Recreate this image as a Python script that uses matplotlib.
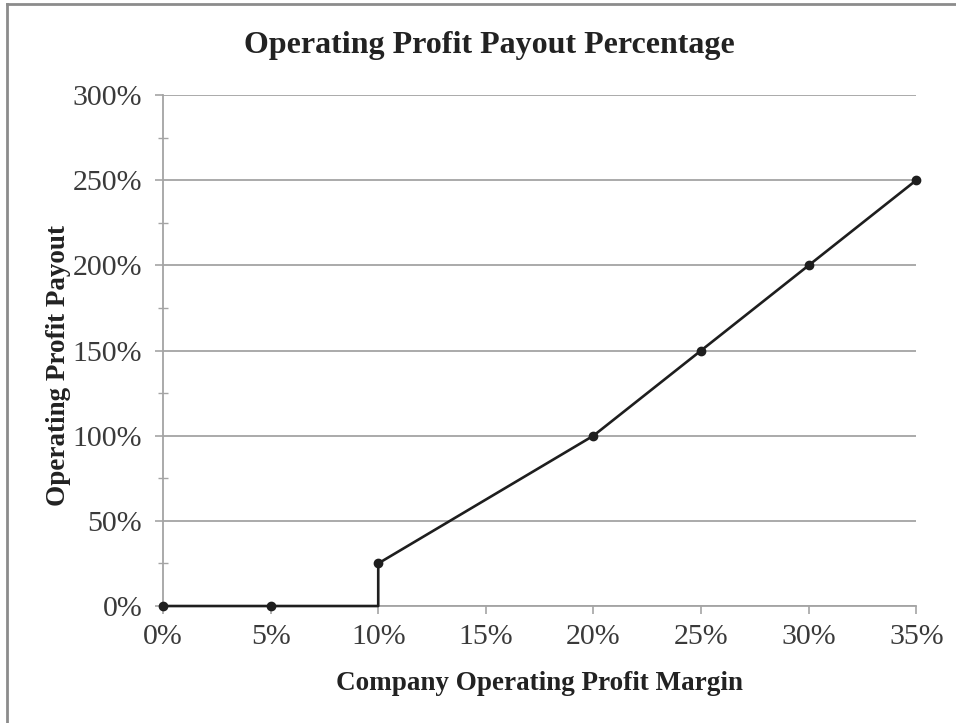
"""
plot.py - operating profit payout curve (step at 10% margin, then linear).
Writes out.png, 956x723.
"""

import matplotlib
matplotlib.use("Agg")
import matplotlib.pyplot as plt
from matplotlib.lines import Line2D
from matplotlib.ticker import FuncFormatter, MultipleLocator

# Payout schedule (percent).
margin = [0, 5, 10, 10, 20, 25, 30, 35]
payout = [0, 0, 0, 25, 100, 150, 200, 250]
marked = [0, 1, 3, 4, 5, 6, 7]  # no dot at the foot of the 10% jump

x_ticks = [0, 5, 10, 15, 20, 25, 30, 35]
y_ticks = [0, 50, 100, 150, 200, 250, 300]

plt.rcParams["font.family"] = ["Liberation Serif", "DejaVu Serif"]

fig = plt.figure(figsize=(9.56, 7.23), dpi=100)
ax = fig.add_axes([0.1705, 0.1618, 0.788, 0.7068])

ax.plot(margin, payout, color="#1e1e1e", lw=1.9, marker="o", markersize=6,
        markevery=marked, zorder=3, clip_on=False)

ax.set_xlim(0, 35)
ax.set_ylim(0, 300)
ax.set_xticks(x_ticks)
ax.set_yticks(y_ticks)
ax.yaxis.set_minor_locator(MultipleLocator(25))
pct = FuncFormatter(lambda v, _: f"{v:.0f}%")
ax.xaxis.set_major_formatter(pct)
ax.yaxis.set_major_formatter(pct)

ax.grid(axis="y", color="#a4a4a4", lw=1.3)
ax.set_axisbelow(True)
for side in ("top", "right"):
    ax.spines[side].set_visible(False)
for side in ("left", "bottom"):
    ax.spines[side].set_color("#a4a4a4")
    ax.spines[side].set_linewidth(1.3)

ax.tick_params(axis="both", which="major", labelsize=21.5, colors="#a4a4a4",
               labelcolor="#3a3a3a", length=6, width=1.2)
ax.tick_params(axis="y", which="minor", direction="inout", length=7,
               width=1.0, colors="#a4a4a4")
ax.tick_params(axis="x", pad=7)
ax.tick_params(axis="y", pad=9)

fig.text(489 / 956, 1 - 46 / 723, "Operating Profit Payout Percentage",
         fontsize=23, fontweight="bold", color="#222222",
         ha="center", va="center")
ax.set_xlabel("Company Operating Profit Margin", fontsize=19.5,
              fontweight="bold", color="#222222", va="center")
ax.set_ylabel("Operating Profit Payout", fontsize=19.5,
              fontweight="bold", color="#222222", va="center")
ax.xaxis.set_label_coords(0.5, -0.151)
ax.yaxis.set_label_coords(-0.139, 0.47)

# Scan-style frame: only the top and left edges show.
fig.add_artist(Line2D([0.0075, 1.0], [0.995, 0.995], transform=fig.transFigure,
                      color="#8c8c8c", lw=2))
fig.add_artist(Line2D([0.0075, 0.0075], [0.0, 0.995], transform=fig.transFigure,
                      color="#8c8c8c", lw=2))

fig.savefig("out.png", dpi=100)
plt.close(fig)
